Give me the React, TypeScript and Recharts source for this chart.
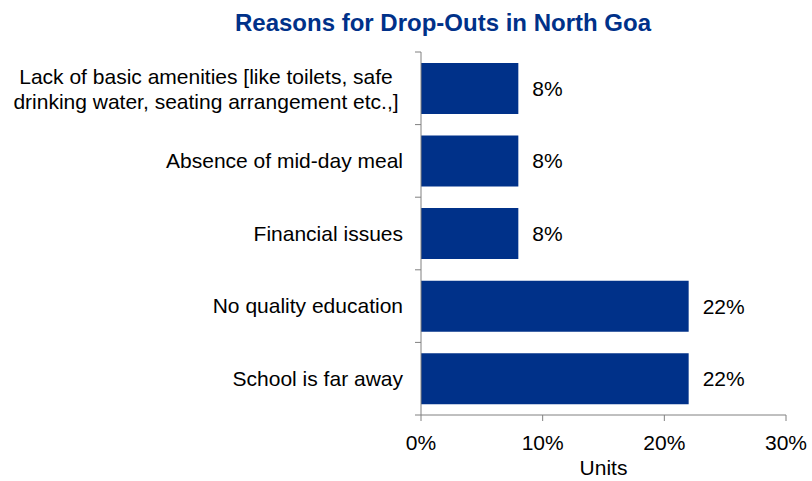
import { Bar, BarChart, LabelList, XAxis, YAxis } from 'recharts';

const categories = [
  'Lack of basic amenities [like toilets, safe|drinking water, seating arrangement etc.,]',
  'Absence of mid-day meal',
  'Financial issues',
  'No quality education',
  'School is far away',
];
const shares = [8, 8, 8, 22, 22];
const xTicks = [0, 10, 20, 30];

const data = categories.map((reason, i) => ({ reason, share: shares[i] }));

const BLUE = '#003189';
const FONT = '"Liberation Sans", Arial, sans-serif';
const BAND = (415 - 52) / categories.length;

function ReasonTick({ x, y, payload, index }: any) {
  const lines = String(payload.value).split('|');
  const right = x - 10;
  const axisX = x + 8;
  return (
    <g>
      <line x1={axisX - 6} x2={axisX} y1={y - BAND / 2} y2={y - BAND / 2} stroke="#808080" />
      {index === categories.length - 1 && (
        <line x1={axisX - 6} x2={axisX} y1={y + BAND / 2} y2={y + BAND / 2} stroke="#808080" />
      )}
      {lines.length === 1 ? (
        <text x={right} y={y} dy="0.35em" textAnchor="end" fontSize={21} fill="#000" fontFamily={FONT}>
          {lines[0]}
        </text>
      ) : (
        <text x={right - 197} y={y} textAnchor="middle" fontSize={21} fill="#000" fontFamily={FONT}>
          {lines.map((l, i) => (
            <tspan key={i} x={right - 197} dy={i === 0 ? '-0.2em' : '1.2em'}>
              {l}
            </tspan>
          ))}
        </text>
      )}
    </g>
  );
}

export default function App() {
  return (
    <div style={{ position: 'absolute', left: 0, top: 0, width: 812, height: 481, background: '#fff' }}>
      <BarChart
        width={812}
        height={481}
        data={data}
        layout="vertical"
        margin={{ top: 52, right: 26, bottom: 0, left: 0 }}
        barCategoryGap="15%"
      >
        <text x={443} y={31} textAnchor="middle" fontSize={24} fontWeight="bold" fill={BLUE} fontFamily={FONT}>
          Reasons for Drop-Outs in North Goa
        </text>
        <XAxis
          type="number"
          domain={[0, 30]}
          ticks={xTicks}
          tickFormatter={(v) => `${v}%`}
          stroke="#808080"
          tickSize={6}
          tickMargin={14}
          tick={{ fill: '#000', fontSize: 21, fontFamily: FONT }}
          label={{ value: 'Units', position: 'insideBottom', offset: 6, fill: '#000', fontSize: 21, fontFamily: FONT }}
          height={66}
        />
        <YAxis
          type="category"
          dataKey="reason"
          width={421}
          stroke="#808080"
          tickLine={false}
          tick={<ReasonTick />}
          interval={0}
        />
        <Bar dataKey="share" fill={BLUE} isAnimationActive={false}>
          <LabelList
            dataKey="share"
            position="right"
            offset={14}
            formatter={(v: any) => `${v}%`}
            fill="#000"
            fontSize={21}
            fontFamily={FONT}
          />
        </Bar>
      </BarChart>
    </div>
  );
}
